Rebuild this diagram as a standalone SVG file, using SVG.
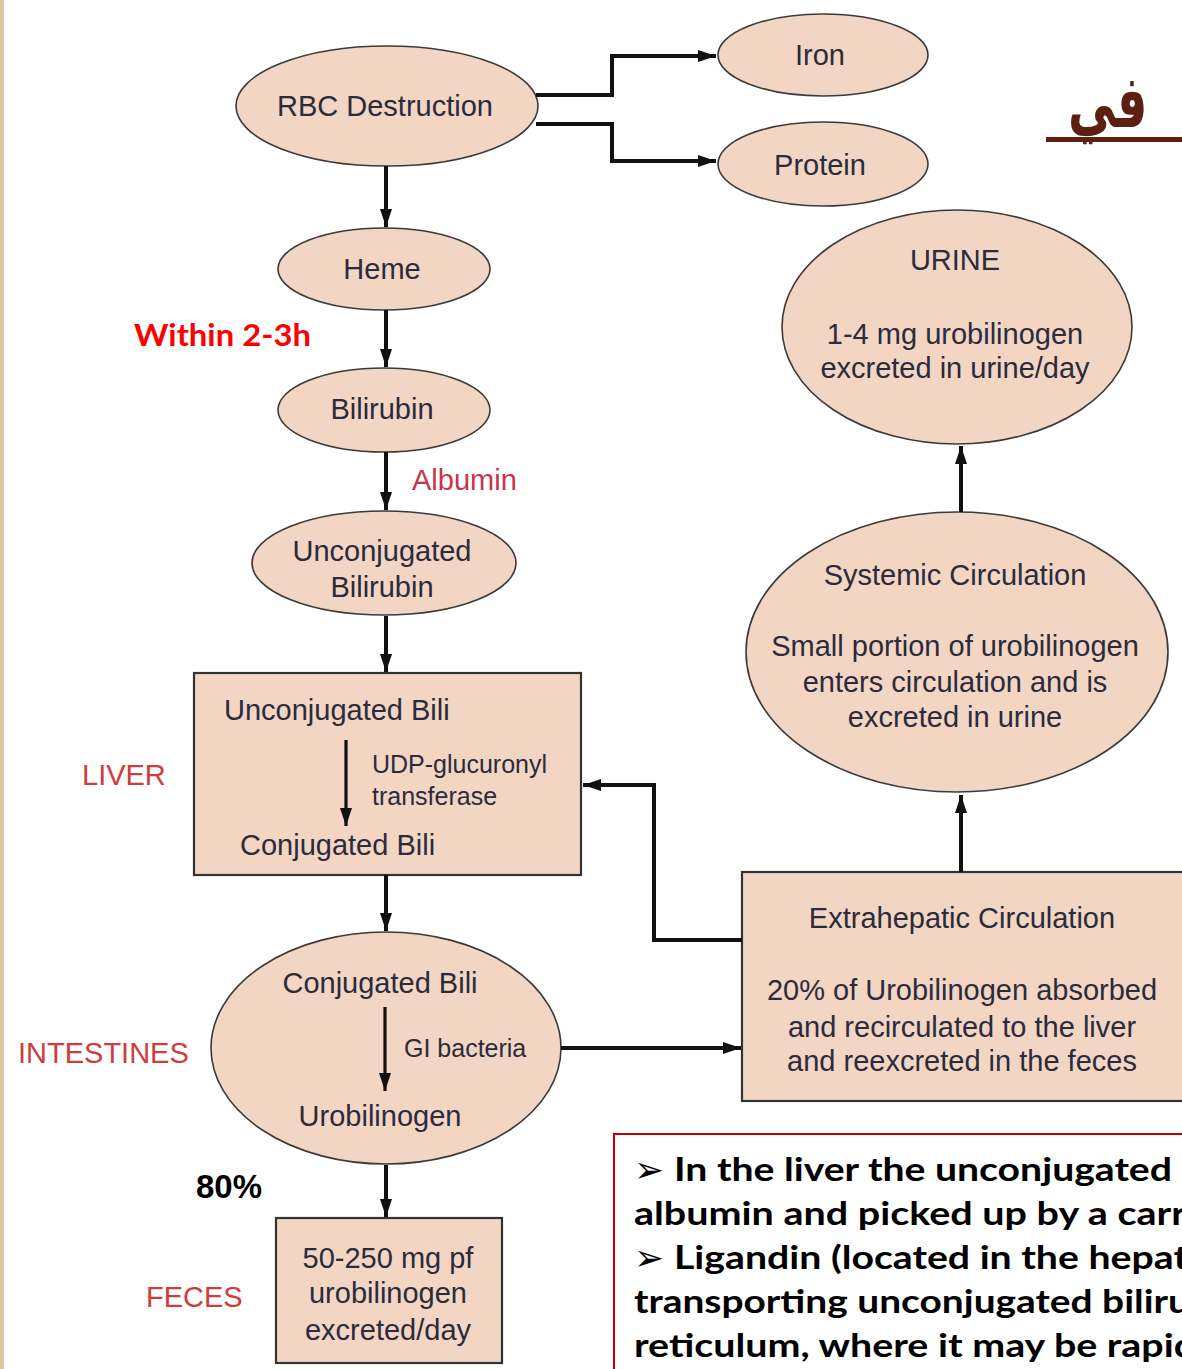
<svg xmlns="http://www.w3.org/2000/svg" width="1182" height="1369" viewBox="0 0 1182 1369">
<defs>
<style>
.n{fill:#f2d5c3;stroke:#3a3a3a;stroke-width:1.6}
.b{fill:#f2d5c3;stroke:#333;stroke-width:2.2}
.t{font-family:"Liberation Sans",Arial,sans-serif;font-size:29px;fill:#2b2b3b}
.s{font-family:"Liberation Sans",Arial,sans-serif;font-size:25px;fill:#2b2b3b}
.c{text-anchor:middle}
.r{font-family:"Liberation Sans",Arial,sans-serif;font-size:29px;fill:#cf3c3c}
.k{fill:none;stroke:#111;stroke-width:4}
.k2{fill:none;stroke:#111;stroke-width:3.2}
.bt{font-family:Lato,"Open Sans",sans-serif;font-weight:bold;font-size:33px;fill:#000}
.bu{font-family:"DejaVu Sans",sans-serif;font-weight:normal;font-size:36px}
</style>
<marker id="a" markerUnits="userSpaceOnUse" markerWidth="18" markerHeight="12" refX="18" refY="6" orient="auto" viewBox="0 0 18 12">
<path d="M0,0 L18,6 L0,12 z" fill="#111"/>
</marker>
</defs>
<rect x="0" y="0" width="1182" height="1369" fill="#fff"/>
<rect x="0" y="0" width="4" height="1369" fill="#d9c9a2"/>

<g id="arabic-title">
<text transform="translate(1068,127) scale(0.85,1.3)" x="0" y="0" font-family="'DejaVu Sans',sans-serif" font-weight="bold" font-size="56" fill="#5c2010">في</text>
<rect x="1046" y="137" width="136" height="5" fill="#5c2010"/>
</g>

<g id="rbc"><ellipse class="n" cx="387" cy="106" rx="151" ry="60"/><text class="t c" x="385" y="116">RBC Destruction</text></g>
<g id="iron"><ellipse class="n" cx="823" cy="55" rx="105" ry="41"/><text class="t c" x="820" y="65">Iron</text></g>
<g id="protein"><ellipse class="n" cx="823" cy="164" rx="105" ry="42"/><text class="t c" x="820" y="175">Protein</text></g>
<g id="heme"><ellipse class="n" cx="384" cy="269" rx="106" ry="41"/><text class="t c" x="382" y="279">Heme</text></g>
<g id="bilirubin"><ellipse class="n" cx="384" cy="410" rx="106" ry="42"/><text class="t c" x="382" y="419">Bilirubin</text></g>
<g id="unconj"><ellipse class="n" cx="384" cy="563" rx="132" ry="52"/><text class="t c" x="382" y="561">Unconjugated</text><text class="t c" x="382" y="597">Bilirubin</text></g>

<g id="liver"><rect class="b" x="194" y="673" width="387" height="202"/>
<text class="t" x="224" y="720">Unconjugated Bili</text>
<text class="s" x="372" y="773">UDP-glucuronyl</text>
<text class="s" x="372" y="805">transferase</text>
<text class="t" x="240" y="855">Conjugated Bili</text></g>

<g id="intestine"><ellipse class="n" cx="386" cy="1048" rx="175" ry="116"/>
<text class="t c" x="380" y="993">Conjugated Bili</text>
<text class="s" x="404" y="1057">GI bacteria</text>
<text class="t c" x="380" y="1126">Urobilinogen</text></g>

<g id="feces"><rect class="b" x="276" y="1218" width="226" height="145"/>
<text class="t c" x="388" y="1268">50-250 mg pf</text>
<text class="t c" x="388" y="1303">urobilinogen</text>
<text class="t c" x="388" y="1340">excreted/day</text></g>

<g id="urine"><ellipse class="n" cx="957" cy="327" rx="175" ry="117"/>
<text class="t c" x="955" y="270">URINE</text>
<text class="t c" x="955" y="344">1-4 mg urobilinogen</text>
<text class="t c" x="955" y="378">excreted in urine/day</text></g>

<g id="systemic"><ellipse class="n" cx="957" cy="652" rx="211" ry="140"/>
<text class="t c" x="955" y="585">Systemic Circulation</text>
<text class="t c" x="955" y="656">Small portion of urobilinogen</text>
<text class="t c" x="955" y="692">enters circulation and is</text>
<text class="t c" x="955" y="727">excreted in urine</text></g>

<g id="extrahepatic"><rect class="b" x="742" y="872" width="460" height="229"/>
<text class="t c" x="962" y="928">Extrahepatic Circulation</text>
<text class="t c" x="962" y="1000">20% of Urobilinogen absorbed</text>
<text class="t c" x="962" y="1037">and recirculated to the liver</text>
<text class="t c" x="962" y="1071">and reexcreted in the feces</text></g>

<g id="connectors">
<path class="k" d="M536,95 H612 V56 H716" marker-end="url(#a)"/>
<path class="k" d="M536,124 H612 V161 H716" marker-end="url(#a)"/>
<path class="k" d="M386,166 V227" marker-end="url(#a)"/>
<path class="k" d="M386,310 V367" marker-end="url(#a)"/>
<path class="k" d="M386,452 V510" marker-end="url(#a)"/>
<path class="k" d="M386,616 V672" marker-end="url(#a)"/>
<path class="k2" d="M346,740 V826" marker-end="url(#a)"/>
<path class="k" d="M386,875 V931" marker-end="url(#a)"/>
<path class="k2" d="M385,1007 V1091" marker-end="url(#a)"/>
<path class="k" d="M386,1165 V1217" marker-end="url(#a)"/>
<path class="k" d="M561,1048 H741" marker-end="url(#a)"/>
<path class="k" d="M742,940 H654 V785 H583" marker-end="url(#a)"/>
<path class="k" d="M961,872 V795" marker-end="url(#a)"/>
<path class="k" d="M961,512 V446" marker-end="url(#a)"/>
</g>

<g id="labels">
<text x="134" y="346" font-family="Lato,'Open Sans',sans-serif" font-weight="bold" font-size="31" fill="#ff0000" textLength="177" lengthAdjust="spacingAndGlyphs">Within 2-3h</text>
<text class="r" x="412" y="490" style="fill:#c8344c">Albumin</text>
<text class="r" x="82" y="785">LIVER</text>
<text class="r" x="18" y="1063">INTESTINES</text>
<text class="r" x="146" y="1307">FECES</text>
<text x="196" y="1198" font-family="'Liberation Sans Narrow','Liberation Sans',sans-serif" font-weight="bold" font-size="34" fill="#000" textLength="66" lengthAdjust="spacingAndGlyphs">80%</text>
</g>

<g id="notes">
<rect x="614" y="1134" width="600" height="260" fill="#fff" stroke="#c00000" stroke-width="2"/>
<text class="bt bu" x="634" y="1182">➢</text>
<text class="bt" x="674" y="1181" textLength="498" lengthAdjust="spacingAndGlyphs">In the liver the unconjugated</text>
<text class="bt" x="634" y="1225" textLength="552" lengthAdjust="spacingAndGlyphs">albumin and picked up by a carr</text>
<text class="bt bu" x="634" y="1270">➢</text>
<text class="bt" x="674" y="1269" textLength="514" lengthAdjust="spacingAndGlyphs">Ligandin (located in the hepat</text>
<text class="bt" x="634" y="1313" textLength="556" lengthAdjust="spacingAndGlyphs">transporting unconjugated biliru</text>
<text class="bt" x="634" y="1357" textLength="562" lengthAdjust="spacingAndGlyphs">reticulum, where it may be rapid</text>
</g>
</svg>
